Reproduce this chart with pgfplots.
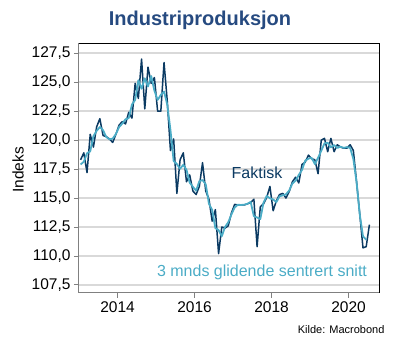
\documentclass[border=0pt]{standalone}
\usepackage{pgfplots}
\pgfplotsset{compat=1.18}
\usepackage{pgfplotstable}
\usepackage{fontspec}
\setmainfont{Liberation Sans}
\definecolor{navy}{HTML}{0B3A62}
\definecolor{teal2}{HTML}{4BACC6}
\definecolor{titleblue}{HTML}{264A80}
\definecolor{gridgray}{HTML}{D9D9D9}
\definecolor{axgray}{HTML}{808080}

\pgfplotstableread{
m v
0 118.3
1 118.9
2 117.2
3 120.5
4 119.4
5 121.15
6 121.85
7 120.4
8 120.3
9 120.1
10 119.8
11 120.5
12 121.3
13 121.6
14 121.4
15 122.4
16 121.9
17 124.9
18 123.6
19 127.0
20 122.7
21 126.3
22 124.9
23 125.4
24 122.5
25 122.5
26 126.7
27 123.4
28 119.1
29 120.1
30 115.4
31 118.3
32 118.9
33 116.4
34 117.0
35 115.6
36 115.3
37 116.0
38 118.05
39 115.6
40 114.9
41 113.0
42 114.0
43 110.2
44 112.5
45 112.4
46 112.6
47 113.7
48 114.45
49 114.4
50 114.4
51 114.4
52 114.5
53 114.6
54 114.9
55 110.8
56 114.25
57 114.5
58 115.05
59 116.0
60 113.9
61 114.75
62 115.3
63 115.4
64 115.0
65 115.55
66 116.4
67 116.8
68 116.3
69 117.9
70 118.1
71 118.7
72 118.4
73 118.3
74 117.1
75 120.0
76 120.15
77 119.0
78 120.15
79 119.0
80 119.6
81 119.4
82 119.3
83 119.3
84 119.6
85 119.1
86 116.4
87 113.6
88 110.7
89 110.8
90 112.7
}\faktisk

\pgfplotstableread{
m v
0 117.9
1 118.13
2 118.87
3 119.03
4 120.35
5 120.8
6 121.13
7 120.85
8 120.27
9 120.07
10 120.13
11 120.53
12 121.13
13 121.43
14 121.8
15 121.9
16 123.07
17 123.47
18 125.17
19 124.43
20 125.33
21 124.63
22 125.53
23 124.27
24 123.47
25 123.9
26 124.2
27 123.07
28 120.87
29 118.2
30 117.93
31 117.53
32 117.87
33 117.43
34 116.33
35 115.97
36 115.63
37 116.45
38 116.55
39 116.18
40 114.5
41 113.97
42 112.4
43 112.23
44 111.7
45 112.5
46 112.9
47 113.58
48 114.18
49 114.42
50 114.4
51 114.43
52 114.5
53 114.67
54 113.43
55 113.32
56 113.18
57 114.6
58 115.18
59 114.98
60 114.88
61 114.65
62 115.15
63 115.23
64 115.32
65 115.65
66 116.25
67 116.5
68 117.0
69 117.43
70 118.23
71 118.4
72 118.47
73 117.93
74 118.47
75 119.08
76 119.72
77 119.77
78 119.38
79 119.58
80 119.33
81 119.43
82 119.33
83 119.4
84 119.33
85 118.37
86 116.37
87 113.57
88 111.7
89 111.4
}\snitt

\begin{document}
\begin{tikzpicture}
\path[use as bounding box] (-79pt,-57pt) rectangle (321pt,293pt);
\begin{axis}[
  at={(0,0)}, anchor=south west,
  scale only axis, width=301pt, height=249pt,
  xmin=-0.5, xmax=93.3,
  ymin=106.8, ymax=128.3,
  xtick={11.5,35.5,59.5,83.5},
  xticklabels={2014,2016,2018,2020},
  ytick={107.5,110,112.5,115,117.5,120,122.5,125,127.5},
  yticklabel style={/pgf/number format/.cd, use comma, fixed, fixed zerofill, precision=1},
  /pgf/number format/assume math mode=true,
  ticklabel style={font=\fontsize{15.5}{18}\selectfont, text=black},
  tick align=outside,
  major tick length=5pt,
  tick style={axgray, line width=0.8pt},
  xtick pos=bottom, ytick pos=left,
  ymajorgrids,
  grid style={gridgray, line width=1.8pt},
  axis line style={axgray, line width=1pt},
  clip=true,
]
\addplot[navy, line width=1.5pt, line join=round] table[x=m, y=v] {\faktisk};
\addplot[teal2, line width=1.8pt, line join=round] table[x=m, y=v] {\snitt};
\draw[black, line width=1pt] (rel axis cs:0,1) -- (rel axis cs:1,1) -- (rel axis cs:1,0);
\end{axis}
\node[font=\bfseries\fontsize{20}{24}\selectfont, text=titleblue] at (121pt,273pt) {Industriproduksjon};
\node[rotate=90, font=\fontsize{15.5}{18}\selectfont] at (-61pt,123pt) {Indeks};
\node[font=\fontsize{16}{19}\selectfont, text=navy] at (178pt,120pt) {Faktisk};
\node[font=\fontsize{16}{19}\selectfont, text=teal2] at (183pt,21pt) {3 mnds glidende sentrert snitt};
\node[font=\fontsize{11}{13}\selectfont, anchor=east] at (309pt,-37pt) {Kilde: Macrobond};
\end{tikzpicture}
\end{document}
